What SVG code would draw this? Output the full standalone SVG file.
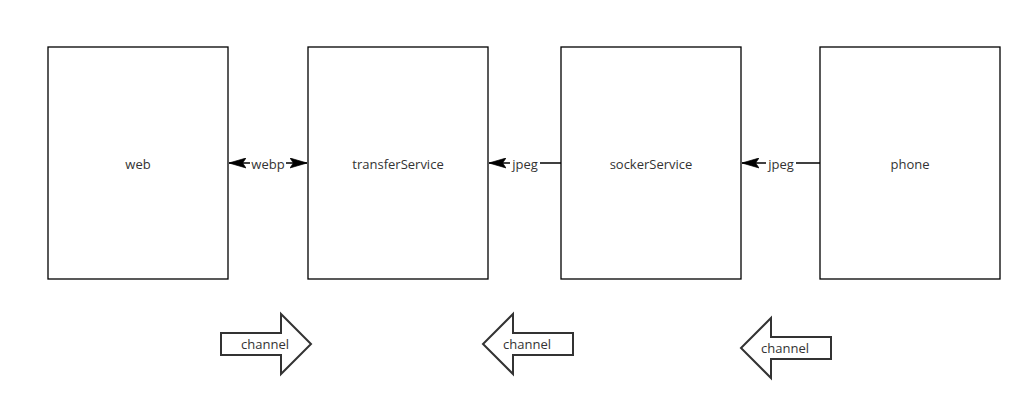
<svg xmlns="http://www.w3.org/2000/svg" width="1032" height="410" viewBox="0 0 1032 410">
<defs>
<style>
.box{fill:#fff;stroke:#000;stroke-width:1.3}
.big{fill:#fff;stroke:#333;stroke-width:2}
.line{stroke:#000;stroke-width:1.3;fill:none}
text{font-family:"Open Sans","Noto Sans",sans-serif;font-size:13px;fill:#333;text-anchor:middle}
.lbl{fill:#fff}
</style>
<marker id="ahb" viewBox="0 0 10 10" refX="10" refY="5" markerWidth="17" markerHeight="11" markerUnits="userSpaceOnUse" orient="auto-start-reverse" preserveAspectRatio="none">
<path d="M0,0.5 L10,5 L0,9.5 L2,5 Z" fill="#000" stroke="#000" stroke-width="0.5"/>
</marker>
</defs>
<rect width="1032" height="410" fill="#fff"/>
<g id="web"><rect class="box" x="48" y="47" width="180" height="232"/><text x="138" y="169">web</text></g>
<g id="transferService"><rect class="box" x="308" y="47" width="180" height="232"/><text x="398" y="169">transferService</text></g>
<g id="sockerService"><rect class="box" x="561" y="47" width="180" height="232"/><text x="651" y="169">sockerService</text></g>
<g id="phone"><rect class="box" x="820" y="47" width="180" height="232"/><text x="910" y="169">phone</text></g>
<g id="connectors">
<line class="line" x1="229" y1="163" x2="307" y2="163" marker-start="url(#ahb)" marker-end="url(#ahb)"/>
<rect class="lbl" x="250" y="155" width="36" height="16"/><text x="268" y="169">webp</text>
<line class="line" x1="561" y1="163" x2="489" y2="163" marker-end="url(#ahb)"/>
<rect class="lbl" x="510" y="155" width="30" height="16"/><text x="525" y="169">jpeg</text>
<line class="line" x1="820" y1="163" x2="742" y2="163" marker-end="url(#ahb)"/>
<rect class="lbl" x="766" y="155" width="30" height="16"/><text x="781" y="169">jpeg</text>
</g>
<g id="channel1"><path class="big" d="M221,333 H281 V314 L311,344 L281,374 V355 H221 Z"/><text x="265" y="349">channel</text></g>
<g id="channel2"><path class="big" d="M573,333 H513 V314 L483,344 L513,374 V355 H573 Z"/><text x="527" y="349">channel</text></g>
<g id="channel3"><path class="big" d="M831,337 H771 V318 L741,348 L771,378 V359 H831 Z"/><text x="785" y="353">channel</text></g>
</svg>
